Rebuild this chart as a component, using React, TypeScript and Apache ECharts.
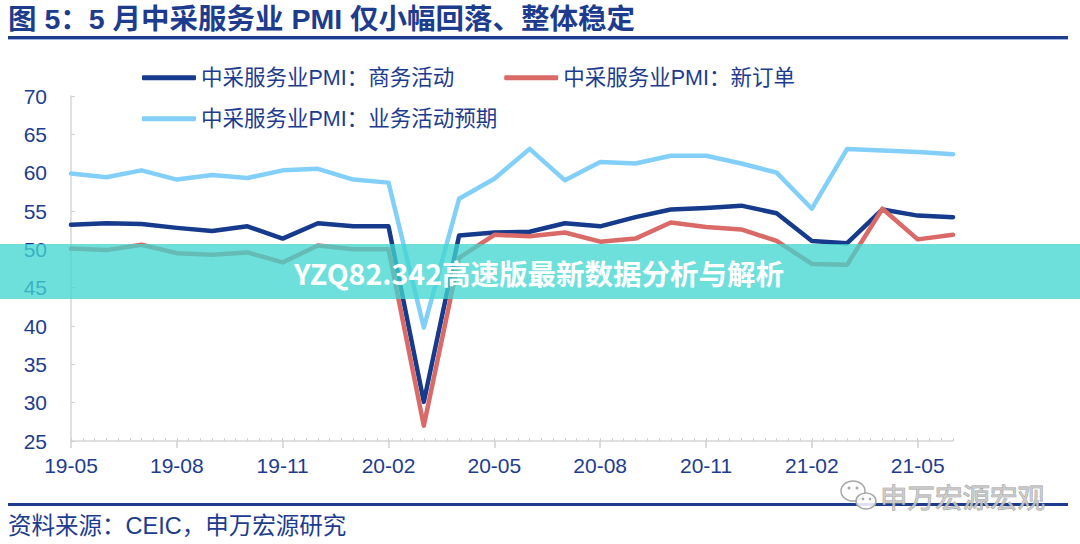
import React, { useEffect, useRef } from "react";
import * as echarts from "echarts";

const months = [
  "19-05", "19-06", "19-07", "19-08", "19-09", "19-10", "19-11", "19-12",
  "20-01", "20-02", "20-03", "20-04", "20-05", "20-06", "20-07", "20-08",
  "20-09", "20-10", "20-11", "20-12", "21-01", "21-02", "21-03", "21-04",
  "21-05", "21-06",
];

const businessActivity = [
  53.2, 53.4, 53.3, 52.8, 52.4, 53.0, 51.4, 53.4, 53.0, 53.0, 30.1, 51.8, 52.2,
  52.3, 53.4, 53.0, 54.2, 55.2, 55.4, 55.7, 54.7, 51.1, 50.8, 55.2, 54.4, 54.2,
];

const newOrders = [
  50.1, 49.9, 50.6, 49.5, 49.3, 49.6, 48.3, 50.5, 50.0, 50.0, 27.0, 48.9, 51.9,
  51.7, 52.2, 51.0, 51.4, 53.5, 52.9, 52.6, 51.1, 48.1, 48.0, 55.3, 51.3, 51.9,
];

const expectations = [
  59.9, 59.4, 60.3, 59.1, 59.7, 59.3, 60.3, 60.5, 59.1, 58.7, 39.8, 56.6, 59.2,
  63.1, 59.0, 61.4, 61.2, 62.2, 62.2, 61.2, 60.0, 55.3, 63.1, 62.9, 62.7, 62.4,
];

const seriesNames = [
  "中采服务业PMI：商务活动",
  "中采服务业PMI：新订单",
  "中采服务业PMI：业务活动预期",
];

const yMin = 25;
const yMax = 70;
const yStep = 5;

const titleText = "图 5：5 月中采服务业 PMI 仅小幅回落、整体稳定";
const bannerText = "YZQ82.342高速版最新数据分析与解析";
const sourceText = "资料来源：CEIC，申万宏源研究";
const watermarkText = "申万宏源宏观";

const NAVY = "#1d3c8e";
const C_BUSINESS = "#163a8c";
const C_ORDERS = "#d96a67";
const C_EXPECT = "#82d0fa";
const FONT = "'Liberation Sans', Arial, 'Noto Sans CJK SC', sans-serif";

export default function App() {
  const ref = useRef<HTMLDivElement>(null);

  useEffect(() => {
    if (!ref.current) return;
    const chart = echarts.init(ref.current, null, { renderer: "svg" });
    const lineStyle = (color: string) => ({
      color,
      width: 4.5,
      join: "round" as const,
      cap: "round" as const,
    });
    const legendBase = {
      padding: 0,
      itemWidth: 54,
      itemHeight: 5,
      icon: "roundRect",
      selectedMode: false,
      textStyle: { fontSize: 21.5, color: NAVY, fontFamily: FONT },
    };
    chart.setOption({
      animation: false,
      backgroundColor: "#ffffff",
      grid: { left: 71, right: 127, top: 96, bottom: 103, containLabel: false },
      legend: [
        {
          ...legendBase,
          data: [seriesNames[0], seriesNames[1]],
          left: 142,
          top: 67,
          itemGap: 50,
        },
        {
          ...legendBase,
          data: [seriesNames[2]],
          left: 142,
          top: 108,
        },
      ],
      xAxis: [
        {
          type: "category",
          data: months,
          boundaryGap: false,
          axisLine: { show: true, lineStyle: { color: "#d6d6d6", width: 1.5 } },
          axisTick: {
            show: true,
            interval: 2,
            length: 7,
            lineStyle: { color: "#d0d0d0", width: 1.5 },
          },
          axisLabel: {
            interval: 2,
            fontSize: 21,
            color: NAVY,
            fontFamily: FONT,
            margin: 14,
          },
          splitLine: { show: false },
        },
        {
          type: "value",
          min: 0,
          max: 75,
          interval: 1,
          position: "bottom",
          axisLine: { show: false },
          axisTick: {
            show: true,
            inside: true,
            length: 3,
            lineStyle: { color: "#d0d0d0", width: 1 },
          },
          axisLabel: { show: false },
          splitLine: { show: false },
        },
      ],
      yAxis: {
        type: "value",
        min: yMin,
        max: yMax,
        interval: yStep,
        axisLine: { show: true, lineStyle: { color: "#d6d6d6", width: 1.5 } },
        axisTick: {
          show: true,
          inside: true,
          length: 4,
          lineStyle: { color: "#d0d0d0", width: 1 },
        },
        axisLabel: { fontSize: 21, color: NAVY, fontFamily: FONT, margin: 24 },
        splitLine: { show: false },
      },
      series: [
        {
          name: seriesNames[2],
          type: "line",
          data: expectations,
          symbol: "none",
          lineStyle: lineStyle(C_EXPECT),
          itemStyle: { color: C_EXPECT },
          z: 2,
        },
        {
          name: seriesNames[0],
          type: "line",
          data: businessActivity,
          symbol: "none",
          lineStyle: lineStyle(C_BUSINESS),
          itemStyle: { color: C_BUSINESS },
          z: 3,
        },
        {
          name: seriesNames[1],
          type: "line",
          data: newOrders,
          symbol: "none",
          lineStyle: lineStyle(C_ORDERS),
          itemStyle: { color: C_ORDERS },
          z: 4,
        },
      ],
      graphic: [
        {
          type: "text",
          x: 8,
          y: 19,
          z: 100,
          style: {
            text: titleText,
            fontSize: 28.5,
            fontWeight: "bold",
            fontFamily: FONT,
            fill: NAVY,
            verticalAlign: "middle",
          },
        },
        {
          type: "rect",
          shape: { x: 8, y: 36, width: 1060, height: 3 },
          style: { fill: NAVY },
          z: 100,
        },
        {
          type: "rect",
          shape: { x: 8, y: 39, width: 1060, height: 1 },
          style: { fill: "#9fb3de" },
          z: 100,
        },
        {
          type: "rect",
          shape: { x: 0, y: 244, width: 1080, height: 55 },
          style: { fill: "rgba(64, 214, 209, 0.76)" },
          z: 100,
        },
        {
          type: "text",
          x: 539,
          y: 272,
          z: 101,
          style: {
            text: bannerText,
            fontSize: 28.5,
            fontWeight: "bold",
            fontFamily: "'Noto Sans CJK SC', 'Noto Sans', sans-serif",
            fill: "#ffffff",
            align: "center",
            verticalAlign: "middle",
          },
        },
        {
          type: "rect",
          shape: { x: 8, y: 503, width: 1060, height: 3 },
          style: { fill: NAVY },
          z: 100,
        },
        {
          type: "text",
          x: 8,
          y: 526,
          z: 100,
          style: {
            text: sourceText,
            fontSize: 23.5,
            fontFamily: FONT,
            fill: NAVY,
            verticalAlign: "middle",
          },
        },
        {
          type: "ellipse",
          shape: { cx: 853, cy: 491, rx: 12, ry: 10 },
          style: { fill: "rgba(255,255,255,0.8)", stroke: "#a8a8a8", lineWidth: 1.5 },
          z: 102,
        },
        {
          type: "ellipse",
          shape: { cx: 866, cy: 501, rx: 10, ry: 8 },
          style: { fill: "rgba(255,255,255,0.85)", stroke: "#a8a8a8", lineWidth: 1.5 },
          z: 103,
        },
        {
          type: "circle",
          shape: { cx: 849, cy: 488, r: 1.5 },
          style: { fill: "#a8a8a8" },
          z: 104,
        },
        {
          type: "circle",
          shape: { cx: 857, cy: 488, r: 1.5 },
          style: { fill: "#a8a8a8" },
          z: 104,
        },
        {
          type: "circle",
          shape: { cx: 863, cy: 499, r: 1.3 },
          style: { fill: "#a8a8a8" },
          z: 104,
        },
        {
          type: "circle",
          shape: { cx: 870, cy: 499, r: 1.3 },
          style: { fill: "#a8a8a8" },
          z: 104,
        },
        {
          type: "text",
          x: 880,
          y: 496,
          z: 104,
          style: {
            text: watermarkText,
            fontSize: 27.5,
            fontFamily: "'Noto Sans CJK SC', sans-serif",
            fill: "rgba(200,200,200,0.9)",
            stroke: "rgba(140,140,140,0.9)",
            lineWidth: 0.8,
            verticalAlign: "middle",
          },
        },
      ],
    });
    return () => chart.dispose();
  }, []);

  return (
    <div
      ref={ref}
      style={{
        position: "fixed",
        left: 0,
        top: 0,
        width: 1080,
        height: 544,
        background: "#ffffff",
      }}
    />
  );
}
